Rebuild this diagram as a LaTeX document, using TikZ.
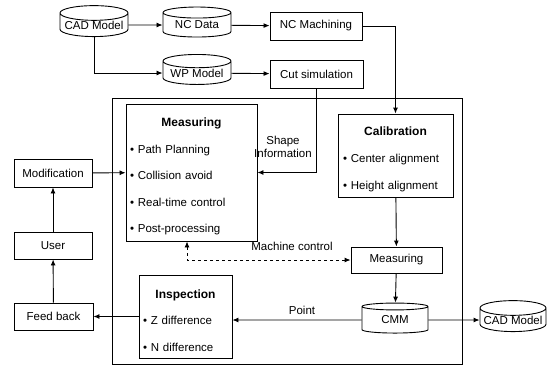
\documentclass[tikz,border=0pt]{standalone}
\usepackage{fontspec}
\setmainfont{Liberation Sans}
\usetikzlibrary{shapes.geometric,arrows.meta}

\newcommand{\boxhead}[1]{\makebox[\linewidth]{\rule{0pt}{17pt}\bfseries\fontsize{12}{12}\selectfont #1}}

\tikzset{
  box/.style={draw=black, line width=0.9pt, inner sep=0pt},
  drum/.style={draw=black, line width=0.9pt, cylinder, shape border rotate=90,
    aspect=0.25, minimum width=68pt, minimum height=30pt, inner sep=0pt},
  panel/.style={box, align=left, inner xsep=4pt},
  label/.style={inner sep=1pt, align=center},
}

\begin{document}
\begin{tikzpicture}[x=1pt, y=-1pt, >={Latex[length=6pt,width=5pt]}, line width=0.9pt,
    font=\fontsize{11.5}{14}\selectfont]
        \useasboundingbox (0,0) rectangle (547,367);

        % frame of the measuring system
        \node[box, minimum width=350pt, minimum height=266pt] (system) at (287,231) {};

        % off-line part
        \node[drum] (cad1) at (94,25) {CAD Model};
        \node[drum] (ncdata) at (197,25) {NC Data};
        \node[box, minimum width=92pt, minimum height=28pt] (ncmach) at (316,26) {NC Machining};
        \node[drum] (wpmodel) at (197,73) {WP Model};
        \node[box, minimum width=93pt, minimum height=28pt] (cutsim) at (316.5,74) {Cut simulation};

        % panels
        \node[panel, text width=123pt, minimum height=137pt,
              font=\fontsize{11.5}{26.5}\selectfont] (meas) at (191.5,172.5)
              {\boxhead{Measuring}\\ \textbullet\ Path Planning\\ \textbullet\ Collision avoid\\
               \textbullet\ Real-time control\\ \textbullet\ Post-processing};
        \node[panel, text width=105pt, inner xsep=5pt, minimum height=83pt,
              font=\fontsize{11.5}{27}\selectfont] (calib) at (395.5,155.5)
              {\boxhead{Calibration}\\ \textbullet\ Center alignment\\ \textbullet\ Height alignment};
        \node[panel, text width=85pt, minimum height=83pt,
              font=\fontsize{11.5}{26.5}\selectfont] (insp) at (185.5,316.5)
              {\boxhead{Inspection}\\ \textbullet\ Z difference\\ \textbullet\ N difference};

        \node[box, minimum width=91pt, minimum height=26pt] (meas2) at (396.5,260) {Measuring};
        \node[drum, minimum width=66pt] (cmm) at (395,320) {CMM};
        \node[drum, minimum width=66pt] (cad2) at (513,320) {CAD Model};

        % user loop
        \node[box, minimum width=78pt, minimum height=28pt] (modif) at (53,173) {Modification};
        \node[box, minimum width=78pt, minimum height=27pt] (user) at (53,245.5) {User};
        \node[box, minimum width=79pt, minimum height=27pt] (feedback) at (53.5,316.5) {Feed back};

        % labels
        \node[label] (shapeinfo) at (283,147) {Shape\\[-1pt]Information};
        \node[label] (machctrl) at (292,246) {Machine control};
        \node[label] (point) at (302,310) {Point};
        \coordinate (mc) at (187,262);

        % connectors
        \path [->] (cad1) edge (ncdata);
        \path [->] (ncdata) edge (ncmach);
        \draw [->] (cad1) |- (wpmodel);
        \path [->] (wpmodel) edge (cutsim);
        \draw [->] (ncmach) -| (calib);
        \draw [->] (cutsim) |- (meas);
        \path [->] (modif) edge (meas);
        \path [->] (user) edge (modif);
        \path [->] (feedback) edge (user);
        \draw [->] (feedback -| insp.west) -- (feedback);
        \path [->] (calib) edge (meas2);
        \path [->] (meas2) edge (cmm);
        \draw [->] (cmm) -- (cmm -| insp.east);
        \path [->] (cmm) edge (cad2);
        \draw [<->, dashed] (meas.south -| mc) |- (meas2);
\end{tikzpicture}
\end{document}
